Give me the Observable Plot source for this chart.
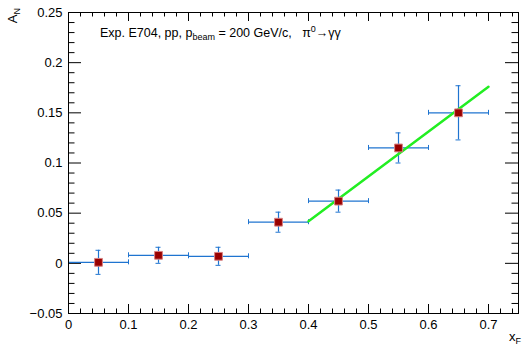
<!DOCTYPE html>
<html><head><meta charset="utf-8">
<script src="https://cdn.jsdelivr.net/npm/d3@7"></script>
<script src="https://cdn.jsdelivr.net/npm/@observablehq/plot@0.6"></script>
<style>body{margin:0;background:#fff}</style>
</head><body><div id="chart"></div>
<script>
// Data
const xF    = [0.05, 0.15, 0.25, 0.35, 0.45, 0.55, 0.65];
const xLow  = [0.0, 0.1, 0.2, 0.3, 0.4, 0.5, 0.6];
const xHigh = [0.1, 0.2, 0.3, 0.4, 0.5, 0.6, 0.7];
const AN    = [0.001, 0.008, 0.007, 0.041, 0.062, 0.115, 0.150];
const ANerr = [0.012, 0.008, 0.009, 0.010, 0.011, 0.015, 0.027];
const fitX  = [0.4, 0.7];
const fitY  = [0.042, 0.176];
const xTicks = [0, 0.1, 0.2, 0.3, 0.4, 0.5, 0.6, 0.7];
const yTicks = [-0.05, 0, 0.05, 0.1, 0.15, 0.2, 0.25];

const W = 531, H = 350, mL = 68, mR = 13, mT = 12, mB = 37;
const pw = W - mL - mR, ph = H - mT - mB;
const pts = xF.map((x, i) => ({x, lo: xLow[i], hi: xHigh[i], y: AN[i], e: ANerr[i]}));
const fit = fitX.map((x, i) => ({x, y: fitY[i]}));
const near = (a, v) => a.some(t => Math.abs(t - v) < 1e-9);
const xMinor = d3.range(38).map(i => +(i * 0.02).toFixed(2)).filter(v => !near(xTicks, v));
const yMinor = d3.range(31).map(i => +(-0.05 + i * 0.01).toFixed(2)).filter(v => !near(yTicks, v));
const fmt = d => (d < 0 ? "\u2212" : "") + String(+Math.abs(d).toFixed(2));
const ec = "#1f74d0";

const svg = Plot.plot({
  width: W, height: H,
  marginLeft: mL, marginRight: mR, marginTop: mT, marginBottom: mB,
  style: {fontFamily: "'Liberation Sans', Arial, sans-serif", fontSize: "13px", color: "black", background: "white"},
  x: {domain: [0, 0.75], ticks: xTicks, tickSize: 0, tickPadding: 6, tickFormat: fmt, label: null},
  y: {domain: [-0.05, 0.25], ticks: yTicks, tickSize: 0, tickPadding: 6, tickFormat: fmt, label: null},
  marks: [
    // inward ticks (ROOT style)
    Plot.tickX(xTicks, {x: d => d, insetTop: ph - 9, stroke: "black"}),
    Plot.tickX(xMinor, {x: d => d, insetTop: ph - 4.5, stroke: "black"}),
    Plot.tickX(xTicks, {x: d => d, insetBottom: ph - 9, stroke: "black"}),
    Plot.tickX(xMinor, {x: d => d, insetBottom: ph - 4.5, stroke: "black"}),
    Plot.tickY(yTicks, {y: d => d, insetRight: pw - 13, stroke: "black"}),
    Plot.tickY(yMinor, {y: d => d, insetRight: pw - 6.5, stroke: "black"}),
    Plot.tickY(yTicks, {y: d => d, insetLeft: pw - 13, stroke: "black"}),
    Plot.tickY(yMinor, {y: d => d, insetLeft: pw - 6.5, stroke: "black"}),
    // error bars
    Plot.ruleY(pts, {y: "y", x1: "lo", x2: "hi", stroke: ec, strokeWidth: 1.2}),
    Plot.ruleX(pts, {x: "x", y1: d => d.y - d.e, y2: d => d.y + d.e, stroke: ec, strokeWidth: 1.2}),
    Plot.ruleX(pts, {x: "lo", y1: "y", y2: "y", insetTop: -2.5, insetBottom: -2.5, stroke: ec}),
    Plot.ruleX(pts, {x: "hi", y1: "y", y2: "y", insetTop: -2.5, insetBottom: -2.5, stroke: ec}),
    Plot.ruleY(pts, {y: d => d.y - d.e, x1: "x", x2: "x", insetLeft: -2.5, insetRight: -2.5, stroke: ec}),
    Plot.ruleY(pts, {y: d => d.y + d.e, x1: "x", x2: "x", insetLeft: -2.5, insetRight: -2.5, stroke: ec}),
    // fit line
    Plot.line(fit, {x: "x", y: "y", stroke: "#22ee22", strokeWidth: 2.5}),
    // markers
    Plot.dot(pts, {x: "x", y: "y", symbol: "square", r: 4.4, fill: "#990000", stroke: "#d88080", strokeWidth: 1}),
    Plot.frame({stroke: "black"})
  ]
});
document.getElementById("chart").appendChild(svg);

const s = d3.select(svg);
// Title annotation
const t = s.append("text").attr("x", 100).attr("y", 37).attr("text-anchor", "start").attr("font-size", 12.5).attr("fill", "black");
t.append("tspan").text("Exp. E704, pp, p");
t.append("tspan").attr("font-size", 9).attr("dy", 3).text("beam");
t.append("tspan").attr("dy", -3).text(" = 200 GeV/c,   \u03c0");
t.append("tspan").attr("font-size", 9).attr("dy", -5).text("0");
t.append("tspan").attr("dy", 5).text("\u2192\u03b3\u03b3");
// Y axis title
const ya = s.append("text").attr("transform", "translate(17,8) rotate(-90)").attr("text-anchor", "end").attr("font-size", 13).attr("fill", "black");
ya.append("tspan").text("A");
ya.append("tspan").attr("font-size", 9).attr("dy", 3).text("N");
// X axis title
const xa = s.append("text").attr("x", 521).attr("y", 341).attr("text-anchor", "end").attr("font-size", 13).attr("fill", "black");
xa.append("tspan").text("x");
xa.append("tspan").attr("font-size", 9).attr("dy", 3).text("F");
</script></body></html>
